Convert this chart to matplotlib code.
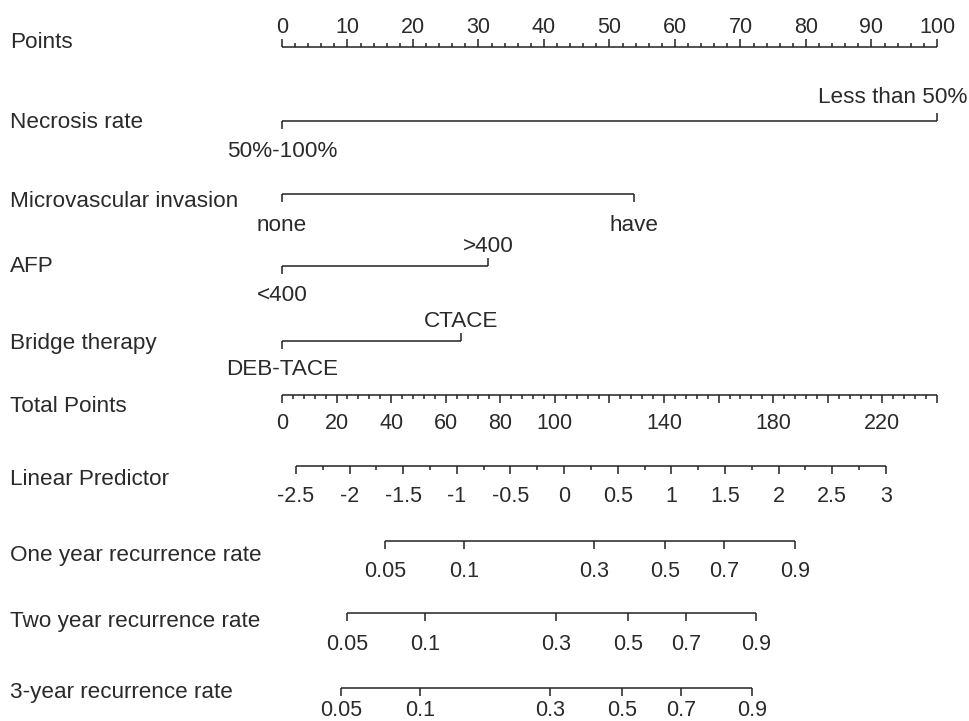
import matplotlib
matplotlib.use("Agg")
import matplotlib.pyplot as plt
import matplotlib.transforms as mtransforms
import numpy as np

plt.rcParams['font.family'] = ['Liberation Sans', 'DejaVu Sans']

# ---------------- data ----------------
row_labels = ["Points", "Necrosis rate", "Microvascular invasion", "AFP",
              "Bridge therapy", "Total Points", "Linear Predictor",
              "One year recurrence rate", "Two year recurrence rate",
              "3-year recurrence rate"]

points_major = [0, 10, 20, 30, 40, 50, 60, 70, 80, 90, 100]
points_minor_step = 2

necrosis_levels = ["50%-100%", "Less than 50%"]
necrosis_points = [0, 100]
mvi_levels = ["none", "have"]
mvi_points = [0, 53.7]
afp_levels = ["<400", ">400"]
afp_points = [0, 31.5]
bridge_levels = ["DEB-TACE", "CTACE"]
bridge_points = [0, 27.4]

total_points_max = 240
total_major_step = 20
total_minor_step = 4
total_labels = [0, 20, 40, 60, 80, 100, 140, 180, 220]

lp_values = [-2.5, -2, -1.5, -1, -0.5, 0, 0.5, 1, 1.5, 2, 2.5, 3]
lp_labels = ["-2.5", "-2", "-1.5", "-1", "-0.5", "0", "0.5", "1", "1.5", "2", "2.5", "3"]
lp_intercept = -2.63        # linear predictor at 0 total points
lp_per_total_point = 1 / 39.3

recur_probs = [0.05, 0.1, 0.3, 0.5, 0.7, 0.9]
recur_labels = ["0.05", "0.1", "0.3", "0.5", "0.7", "0.9"]
one_year_total = [37.8, 66.7, 114.4, 140.3, 162.1, 188.1]
two_year_total = [24.0, 52.3, 100.4, 126.7, 148.1, 173.7]
three_year_total = [21.8, 50.5, 98.2, 124.5, 146.1, 172.1]

# ---------------- layout ----------------
W, H = 970, 721
fig = plt.figure(figsize=(W / 100, H / 100), dpi=100)
ax = fig.add_axes([0, 0, 1, 1])
px_per_total = 2.729
x0_px = 282
ax.set_xlim(-x0_px / px_per_total, (W - x0_px) / px_per_total)
ax.set_ylim(H, 0)
ax.axis('off')

pts_to_total = total_points_max / 100.0
LC = '#222222'
TC = '#2a2a2a'
LW = 1.1
FS_LAB = 16.2
FS_TICK = 15.5
MAJ = 8
MIN = 4

label_trans = mtransforms.blended_transform_factory(ax.transAxes, ax.transData)

def hline(y, xa, xb):
    ax.plot([xa, xb], [y, y], color=LC, lw=LW, solid_capstyle='butt')

def ticks(y, xs, length, up):
    for x in xs:
        ax.plot([x, x], [y, y - length if up else y + length], color=LC, lw=LW,
                solid_capstyle='butt')

def tlabel(x, y, s, ha='center', fs=FS_TICK):
    ax.text(x, y, s, ha=ha, va='baseline', fontsize=fs, color=TC)

# left labels
row_baselines = [48, 128, 207, 272, 349, 412, 485, 561, 627, 698]
for lab, yb in zip(row_labels, row_baselines):
    ax.text(10 / W, yb, lab, transform=label_trans, ha='left', va='baseline',
            fontsize=FS_LAB, color=TC)

# Points axis
y = 47
xs_major = [p * pts_to_total for p in points_major]
xs_minor = [p * pts_to_total for p in np.arange(0, 100 + 0.1, points_minor_step)
            if p not in points_major]
hline(y, xs_major[0], xs_major[-1])
ticks(y, xs_major, MAJ, True)
ticks(y, xs_minor, MIN, True)
for p, x in zip(points_major, xs_major):
    tlabel(x, 33, str(p))

# categorical variables
def cat_row(y, levels, pts, sides, baselines, last_right=False):
    xs = [p * pts_to_total for p in pts]
    hline(y, xs[0], xs[-1])
    for i, (lev, x, side, yb) in enumerate(zip(levels, xs, sides, baselines)):
        ticks(y, [x], MAJ, side == 'up')
        if last_right and i == len(levels) - 1:
            ax.text((W - 3 - x0_px) / px_per_total, yb, lev, ha='right',
                    va='baseline', fontsize=FS_LAB, color=TC)
        else:
            ax.text(x, yb, lev, ha='center', va='baseline', fontsize=FS_LAB, color=TC)

cat_row(121, necrosis_levels, necrosis_points, ['down', 'up'], [157, 103], last_right=True)
cat_row(194, mvi_levels, mvi_points, ['down', 'down'], [231, 231])
cat_row(266, afp_levels, afp_points, ['down', 'up'], [301, 252])
cat_row(341, bridge_levels, bridge_points, ['down', 'up'], [375, 327])

# Total points axis
y = 395
tmaj = np.arange(0, total_points_max + 0.1, total_major_step)
tmin = [v for v in np.arange(0, total_points_max + 0.1, total_minor_step)
        if v % total_major_step != 0]
hline(y, 0, total_points_max)
ticks(y, tmaj, MAJ, False)
ticks(y, tmin, MIN, False)
for v in total_labels:
    tlabel(v, 429, str(v))

# Linear predictor axis
y = 466
lp_to_total = lambda lp: (lp - lp_intercept) / lp_per_total_point
lxs = [lp_to_total(v) for v in lp_values]
lmin = [lp_to_total(v + 0.25) for v in lp_values[:-1]]
hline(y, lxs[0], lxs[-1])
ticks(y, lxs, MAJ, False)
ticks(y, lmin, MIN, False)
for x, s in zip(lxs, lp_labels):
    tlabel(x, 502, s)

# recurrence axes
for y, yb, tot in [(541, 577, one_year_total), (613, 650, two_year_total),
                   (688, 716, three_year_total)]:
    hline(y, tot[0], tot[-1])
    ticks(y, tot, MAJ, False)
    for x, s in zip(tot, recur_labels):
        tlabel(x, yb, s)

fig.savefig("out.png", dpi=100, facecolor='white')
